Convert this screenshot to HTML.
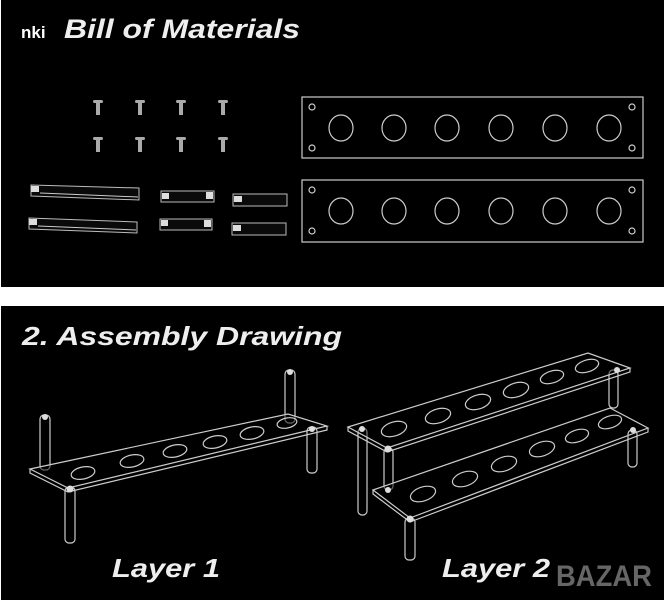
<!DOCTYPE html>
<html><head><meta charset="utf-8"><style>
html,body{margin:0;padding:0;background:#fff;}
svg{display:block}
text{font-family:"Liberation Sans",sans-serif;}
</style></head><body>
<svg width="665" height="600" viewBox="0 0 665 600" xmlns="http://www.w3.org/2000/svg">
<defs>
<g id="s"><rect x="-5" y="0" width="10" height="3" rx="1.5"/><rect x="-2" y="3" width="4" height="12"/></g>
</defs>
<rect x="0" y="0" width="665" height="600" fill="#fff"/>
<rect x="1" y="0" width="663" height="287" fill="#000"/>
<rect x="1" y="306" width="663" height="294" fill="#000"/>

<!-- Title 1 -->
<text x="64" y="38" font-size="27" font-weight="bold" font-style="italic" fill="#eee" textLength="236" lengthAdjust="spacingAndGlyphs">Bill of Materials</text>
<text x="21" y="38" font-size="17" font-weight="bold" fill="#fff">nki</text>

<!-- screws -->
<g fill="#aaa">
<use href="#s" x="98" y="100"/><use href="#s" x="140" y="100"/><use href="#s" x="181" y="100"/><use href="#s" x="223" y="100"/>
<use href="#s" x="98" y="137"/><use href="#s" x="140" y="137"/><use href="#s" x="181" y="137"/><use href="#s" x="223" y="137"/>
</g>

<!-- plates -->
<g fill="none" stroke="#ccc" stroke-width="1.2">
<rect x="302" y="97" width="341" height="61"/>
<rect x="302" y="180" width="341" height="62"/>
<g id="h1">
<ellipse cx="341" cy="128" rx="12" ry="13"/><ellipse cx="394" cy="128" rx="12" ry="13"/><ellipse cx="447" cy="128" rx="12" ry="13"/><ellipse cx="501" cy="128" rx="12" ry="13"/><ellipse cx="555" cy="128" rx="12" ry="13"/><ellipse cx="609" cy="128" rx="12" ry="13"/>
<circle cx="312" cy="107" r="3"/><circle cx="632" cy="107" r="3"/><circle cx="312" cy="148" r="3"/><circle cx="632" cy="148" r="3"/>
</g>
<use href="#h1" y="83"/>
</g>

<!-- rods -->
<g fill="#0a0a0a" stroke="#bbb" stroke-width="1">
<polygon points="31,185 139,188 139,200 31,196"/>
<polygon points="29,218 137,222 137,233 29,229"/>
<rect x="161" y="191" width="53" height="11"/>
<rect x="160" y="219" width="52" height="11"/>
<rect x="233" y="194" width="54" height="12"/>
<rect x="232" y="223" width="54" height="12"/>
</g>
<g fill="#ddd">
<rect x="31" y="186" width="8" height="6"/><rect x="29" y="219" width="8" height="6"/>
<rect x="162" y="193" width="7" height="6"/><rect x="206" y="192" width="7" height="7"/>
<rect x="161" y="220" width="7" height="6"/><rect x="204" y="220" width="7" height="7"/>
<rect x="234" y="196" width="8" height="6"/><rect x="233" y="225" width="8" height="6"/>
</g>
<line x1="40" y1="193" x2="138" y2="197" stroke="#ccc"/>
<line x1="38" y1="226" x2="136" y2="230" stroke="#ccc"/>

<!-- Title 2 -->
<text x="22" y="345" font-size="26" font-weight="bold" font-style="italic" fill="#eee" textLength="320" lengthAdjust="spacingAndGlyphs">2. Assembly Drawing</text>

<g fill="none" stroke="#ccc" stroke-width="1.2">
<rect x="40" y="415" width="10" height="55" rx="4"/>
<rect x="285" y="370" width="10" height="53" rx="4"/>
<polygon points="30,469 288,414 327,426 68,488" fill="rgba(0,0,0,0.5)"/>
<polyline points="30,469 30,473 68,492 327,430 327,426"/>
<ellipse cx="83" cy="473" rx="12" ry="6" transform="rotate(-12 83 473)"/>
<ellipse cx="132" cy="461" rx="12" ry="6" transform="rotate(-12 132 461)"/>
<ellipse cx="175" cy="451" rx="12" ry="6" transform="rotate(-12 175 451)"/>
<ellipse cx="215" cy="442" rx="12" ry="6" transform="rotate(-12 215 442)"/>
<ellipse cx="252" cy="433" rx="12" ry="6" transform="rotate(-12 252 433)"/>
<ellipse cx="287" cy="423" rx="10" ry="5" transform="rotate(-12 287 423)"/>
<rect x="65" y="487" width="10" height="56" rx="4"/>
<rect x="307" y="427" width="10" height="46" rx="4"/>

<rect x="358" y="428" width="9" height="87" rx="4"/>
<rect x="609" y="370" width="9" height="38" rx="4"/>
<rect x="384" y="448" width="9" height="42" rx="4"/>
<polygon points="373,490 610,408 648,428 410,518" fill="rgba(0,0,0,0.5)"/>
<polyline points="373,490 373,494 410,522 648,432 648,428"/>
<ellipse cx="423" cy="494" rx="13" ry="7" transform="rotate(-18 423 494)"/>
<ellipse cx="465" cy="479" rx="13" ry="7" transform="rotate(-18 465 479)"/>
<ellipse cx="504" cy="464" rx="13" ry="7" transform="rotate(-18 504 464)"/>
<ellipse cx="542" cy="449" rx="13" ry="7" transform="rotate(-18 542 449)"/>
<ellipse cx="577" cy="436" rx="12" ry="6" transform="rotate(-18 577 436)"/>
<ellipse cx="610" cy="422" rx="12" ry="6" transform="rotate(-18 610 422)"/>
<rect x="628" y="430" width="9" height="37" rx="4"/>
<rect x="405" y="518" width="10" height="42" rx="4"/>
<polygon points="348,427 588,353 630,368 387,448" fill="rgba(0,0,0,0.4)"/>
<polyline points="348,427 348,431 387,452 630,372 630,368"/>
<ellipse cx="394" cy="429" rx="13" ry="7" transform="rotate(-17 394 429)"/>
<ellipse cx="438" cy="416" rx="13" ry="7" transform="rotate(-17 438 416)"/>
<ellipse cx="478" cy="402" rx="13" ry="7" transform="rotate(-17 478 402)"/>
<ellipse cx="516" cy="390" rx="13" ry="7" transform="rotate(-17 516 390)"/>
<ellipse cx="552" cy="377" rx="12" ry="6" transform="rotate(-17 552 377)"/>
<ellipse cx="587" cy="366" rx="12" ry="6" transform="rotate(-17 587 366)"/>
</g>
<g fill="#ddd">
<circle cx="45" cy="417" r="3"/><circle cx="290" cy="372" r="3"/><circle cx="70" cy="489" r="3.5"/><circle cx="312" cy="429" r="3"/>
<circle cx="362" cy="429" r="3"/><circle cx="388" cy="449" r="3.5"/><circle cx="617" cy="370" r="3"/><circle cx="410" cy="519" r="3.5"/><circle cx="633" cy="430" r="3"/><circle cx="388" cy="490" r="3"/>
</g>

<text x="112" y="577" font-size="26" font-weight="bold" font-style="italic" fill="#eee" textLength="108" lengthAdjust="spacingAndGlyphs">Layer 1</text>
<text x="442" y="577" font-size="26" font-weight="bold" font-style="italic" fill="#eee" textLength="108" lengthAdjust="spacingAndGlyphs">Layer 2</text>
<text x="556" y="586" font-size="30" font-weight="bold" fill="#666" textLength="96" lengthAdjust="spacingAndGlyphs">BAZAR</text>
</svg>
</body></html>
